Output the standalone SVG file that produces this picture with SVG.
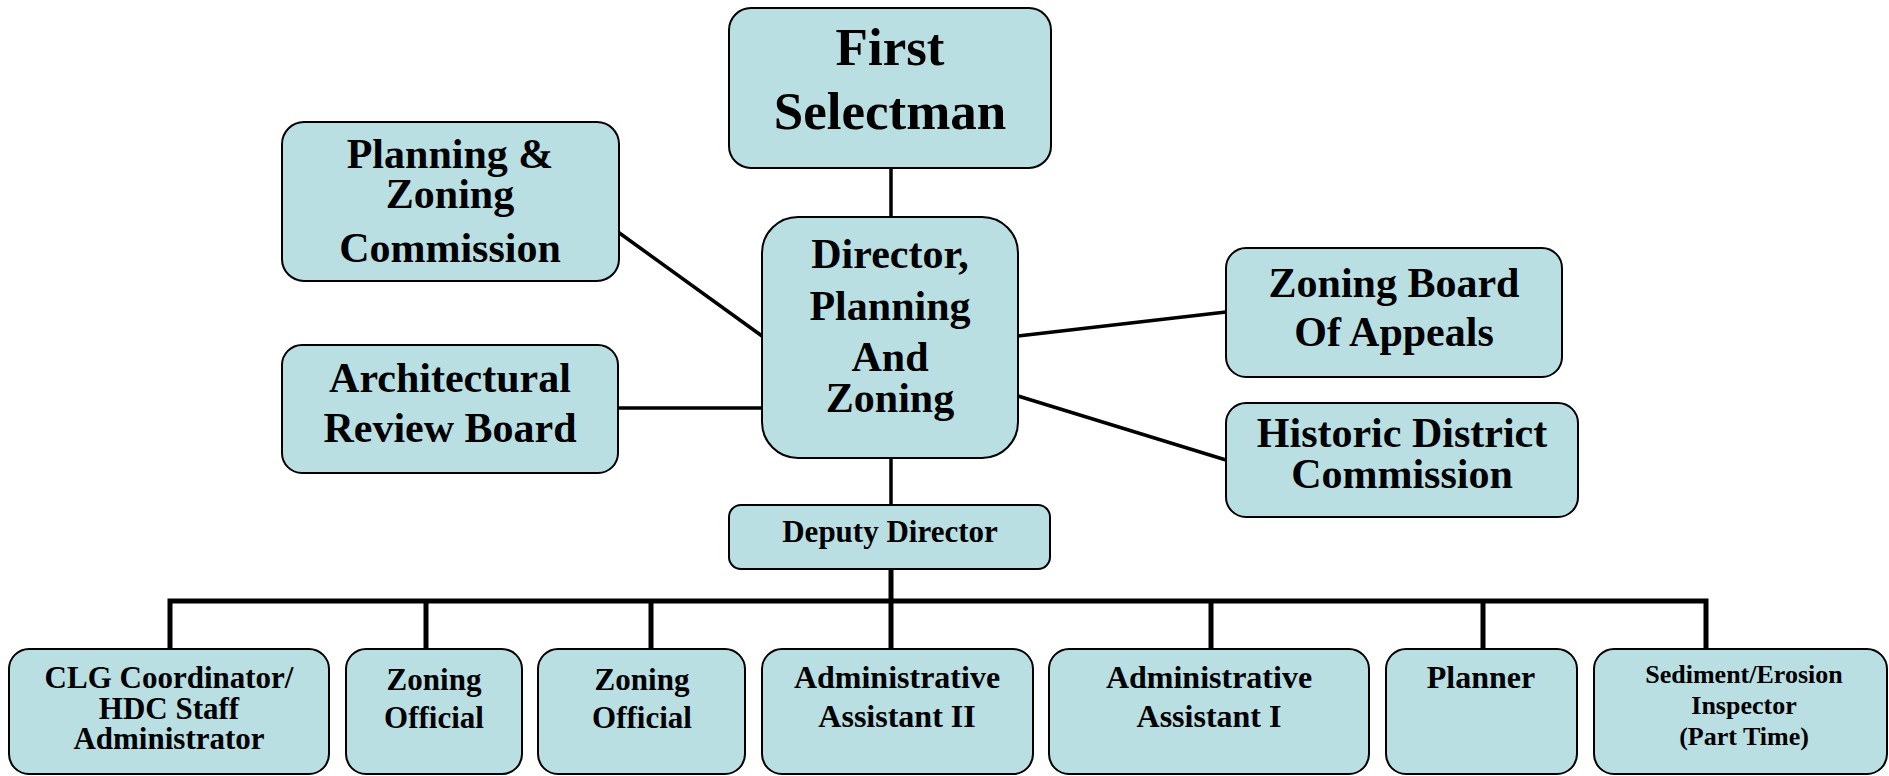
<svg xmlns="http://www.w3.org/2000/svg" width="1889" height="776" viewBox="0 0 1889 776">
<style>
.box{fill:#B9DFE3;stroke:#000;stroke-width:2}
.t{font-family:"Liberation Serif","Times New Roman",serif;font-weight:bold;fill:#000;text-anchor:middle}
.c{stroke:#000;stroke-width:3.5;fill:none}
.bus{stroke:#000;stroke-width:5;fill:none}
</style>
<rect width="1889" height="776" fill="#fff"/>
<g id="connectors">
<line class="c" x1="891" y1="168" x2="891" y2="217"/>
<line class="c" x1="618" y1="232" x2="762" y2="336"/>
<line class="c" x1="618" y1="408" x2="762" y2="408"/>
<line class="c" x1="1018" y1="336" x2="1226" y2="312"/>
<line class="c" x1="1018" y1="396" x2="1226" y2="460"/>
<line class="c" x1="891" y1="458" x2="891" y2="505"/>
<line class="bus" x1="891" y1="569" x2="891" y2="649"/>
<polyline class="bus" points="170,649 170,601 1706,601 1706,649"/>
<line class="bus" x1="426" y1="601" x2="426" y2="649"/>
<line class="bus" x1="651" y1="601" x2="651" y2="649"/>
<line class="bus" x1="1211" y1="601" x2="1211" y2="649"/>
<line class="bus" x1="1483" y1="601" x2="1483" y2="649"/>
</g>
<g id="first-selectman">
<rect class="box" x="729" y="8" width="322" height="160" rx="22"/>
<text class="t" font-size="53" x="890" y="65">First</text>
<text class="t" font-size="53" x="890" y="129">Selectman</text>
</g>
<g id="planning-zoning-commission">
<rect class="box" x="282" y="122" width="337" height="159" rx="22"/>
<text class="t" font-size="42" x="450" y="168">Planning &amp;</text>
<text class="t" font-size="42" x="450" y="208">Zoning</text>
<text class="t" font-size="42" x="450" y="262">Commission</text>
</g>
<g id="architectural-review-board">
<rect class="box" x="282" y="345" width="336" height="128" rx="20"/>
<text class="t" font-size="42" x="450" y="392">Architectural</text>
<text class="t" font-size="42" x="450" y="442">Review Board</text>
</g>
<g id="director">
<rect class="box" x="762" y="217" width="256" height="241" rx="36"/>
<text class="t" font-size="42" x="890" y="268">Director,</text>
<text class="t" font-size="42" x="890" y="320">Planning</text>
<text class="t" font-size="42" x="890" y="371">And</text>
<text class="t" font-size="42" x="890" y="412">Zoning</text>
</g>
<g id="zoning-board-of-appeals">
<rect class="box" x="1226" y="248" width="336" height="129" rx="20"/>
<text class="t" font-size="42" x="1394" y="297">Zoning Board</text>
<text class="t" font-size="42" x="1394" y="346">Of Appeals</text>
</g>
<g id="historic-district-commission">
<rect class="box" x="1226" y="403" width="352" height="114" rx="20"/>
<text class="t" font-size="42" x="1402" y="447">Historic District</text>
<text class="t" font-size="42" x="1402" y="488">Commission</text>
</g>
<g id="deputy-director">
<rect class="box" x="729" y="505" width="321" height="64" rx="12"/>
<text class="t" font-size="31" x="890" y="542">Deputy Director</text>
</g>
<g id="clg-coordinator">
<rect class="box" x="9" y="649" width="320" height="125" rx="20"/>
<text class="t" font-size="31" x="169" y="688">CLG Coordinator/</text>
<text class="t" font-size="31" x="169" y="719">HDC Staff</text>
<text class="t" font-size="31" x="169" y="749">Administrator</text>
</g>
<g id="zoning-official-1">
<rect class="box" x="346" y="649" width="176" height="125" rx="20"/>
<text class="t" font-size="31" x="434" y="690">Zoning</text>
<text class="t" font-size="31" x="434" y="728">Official</text>
</g>
<g id="zoning-official-2">
<rect class="box" x="538" y="649" width="207" height="125" rx="20"/>
<text class="t" font-size="31" x="642" y="690">Zoning</text>
<text class="t" font-size="31" x="642" y="728">Official</text>
</g>
<g id="administrative-assistant-2">
<rect class="box" x="762" y="649" width="271" height="125" rx="20"/>
<text class="t" font-size="32" x="897" y="688">Administrative</text>
<text class="t" font-size="32" x="897" y="727">Assistant II</text>
</g>
<g id="administrative-assistant-1">
<rect class="box" x="1049" y="649" width="320" height="125" rx="20"/>
<text class="t" font-size="32" x="1209" y="688">Administrative</text>
<text class="t" font-size="32" x="1209" y="727">Assistant I</text>
</g>
<g id="planner">
<rect class="box" x="1386" y="649" width="191" height="125" rx="20"/>
<text class="t" font-size="32" x="1481" y="688">Planner</text>
</g>
<g id="sediment-erosion-inspector">
<rect class="box" x="1594" y="649" width="293" height="125" rx="20"/>
<text class="t" font-size="26" x="1744" y="683">Sediment/Erosion</text>
<text class="t" font-size="26" x="1744" y="714">Inspector</text>
<text class="t" font-size="26" x="1744" y="745">(Part Time)</text>
</g>
</svg>
